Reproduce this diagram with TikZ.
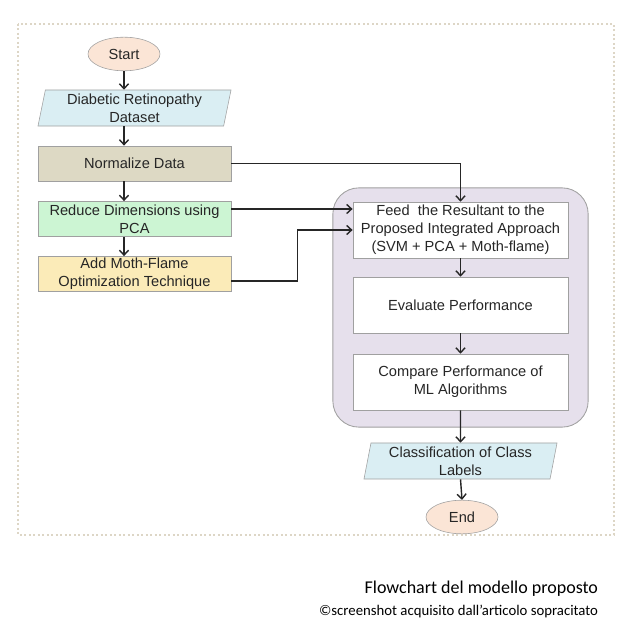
\documentclass[tikz,border=0pt]{standalone}
\usepackage{fontspec}
\setmainfont{Liberation Sans}
\newfontfamily\capfont{Carlito}
\usepackage{tikz}
\usetikzlibrary{shapes.geometric,arrows.meta}
\usepackage{xcolor}

\definecolor{lineC}{HTML}{262626}
\definecolor{edgeC}{HTML}{A0A0A0}
\definecolor{peachC}{HTML}{FBE5D6}
\definecolor{skyC}{HTML}{DAEEF3}
\definecolor{tanC}{HTML}{DDD9C4}
\definecolor{mintC}{HTML}{CCF5D3}
\definecolor{butterC}{HTML}{FBEBB8}
\definecolor{lilacC}{HTML}{E6E0EC}
\definecolor{frameC}{HTML}{DDD6C6}

\begin{document}
\begin{tikzpicture}[
    x=0.025cm, y=-0.025cm,
    every node/.style={font=\fontsize{10.4}{12.8}\selectfont, text=lineC, align=center},
    term/.style={ellipse, draw=edgeC, fill=peachC, minimum width=1.8cm, minimum height=0.84cm, inner sep=0pt},
    io/.style={trapezium, trapezium left angle=79, trapezium right angle=101, trapezium stretches=true,
               draw=edgeC, fill=skyC, minimum width=4.83cm, minimum height=0.9cm, inner sep=0pt},
    proc/.style={draw=edgeC, minimum width=4.83cm, minimum height=0.88cm, inner sep=0pt},
    inner/.style={draw=edgeC, fill=white, minimum width=5.38cm, minimum height=1.4cm, inner sep=0pt},
    link/.style={-{Straight Barb[length=3.5pt,width=6.5pt]}, draw=lineC, line width=1pt},
]
\useasboundingbox (0,0) rectangle (628,635);

% column x positions
\def\xL{134.5}   % left column
\def\xR{460.5}   % right column

% outer dotted frame
\draw[frameC, line width=1.3pt, dash pattern=on 1.3pt off 1.9pt] (18,24) rectangle (614,535);

% grouping panel
\node[draw=edgeC, fill=lilacC, rounded corners=0.65cm, minimum width=6.38cm, minimum height=5.98cm,
      line width=0.6pt] (panel) at (460.5,307.5) {};

% left column
\node[term] (start) at (124,54) {Start};
\node[io] (data) at (\xL,108) {Diabetic Retinopathy\\Dataset};
\node[proc, fill=tanC] (norm) at (\xL,163.5) {Normalize Data};
\node[proc, fill=mintC] (pca) at (\xL,219) {Reduce Dimensions using\\PCA};
\node[proc, fill=butterC] (mfo) at (\xL,274) {Add Moth-Flame\\Optimization Technique};

% right column
\node[inner] (feed) at (\xR,230) {Feed\ \ the Resultant to the\\Proposed Integrated Approach\\(SVM + PCA + Moth-flame)};
\node[inner] (eval) at (\xR,305) {Evaluate Performance};
\node[inner] (comp) at (\xR,382) {Compare Performance of\\ML Algorithms};
\node[io] (cls) at (\xR,461) {Classification of Class\\Labels};
\node[term] (stop) at (462,517) {End};

% main flow
\draw[link] (start.south) -- (start.south |- data.north);
\draw[link] (start.south |- data.south) -- (start.south |- norm.north);
\draw[link] (start.south |- norm.south) -- (start.south |- pca.north);
\draw[link] (start.south |- pca.south) -- (start.south |- mfo.north);

% feeds into the approach
\draw[link] (norm.east) -| (feed.north);
\coordinate (pcaOut) at ([yshift=0.25cm]pca.east);
\draw[link] (pcaOut) -- (pcaOut -| feed.west);
\draw[link] ([yshift=-0.175cm]mfo.east) -- ++(66,0) |- (feed.west);

\draw[link] (feed.south) -- (eval.north);
\draw[link] (eval.south) -- (comp.north);
\draw[link] (comp.south) -- (cls.north);
\draw[link] (cls.south) -- (stop.north);

% caption
\node[anchor=east, font=\capfont\fontsize{12.8}{15}\selectfont, text=black] (cap1) at (603,589) {Flowchart del modello proposto};
\node[anchor=east, font=\capfont\fontsize{10.5}{12}\selectfont, text=black] (cap2) at (603,611) {©screenshot acquisito dall’articolo sopracitato};
\end{tikzpicture}
\end{document}
